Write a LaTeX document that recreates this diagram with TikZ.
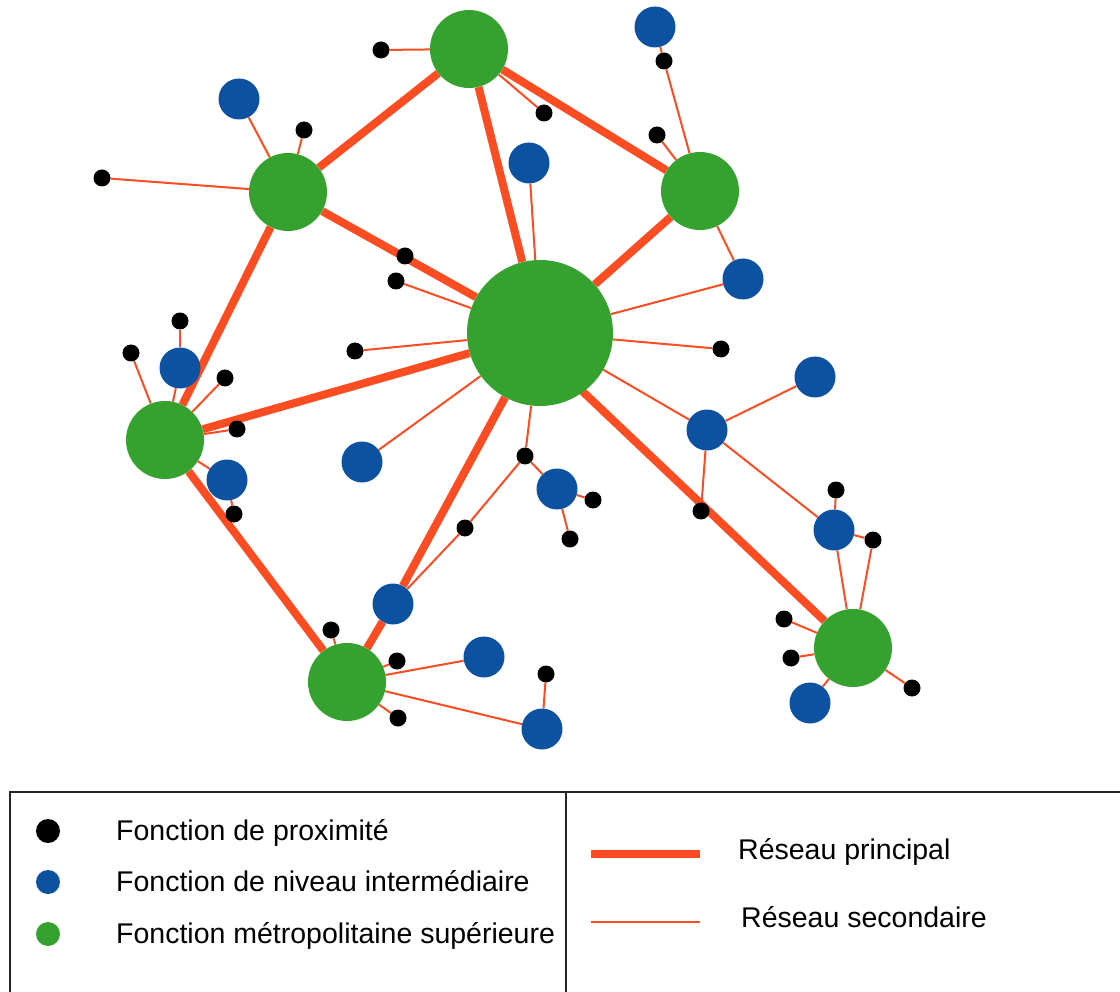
\documentclass[tikz,border=0pt]{standalone}
\usepackage{fontspec}
\setmainfont{Liberation Sans}
\usetikzlibrary{backgrounds}
\definecolor{cgreen}{RGB}{53,161,46}
\definecolor{cblue}{RGB}{12,82,161}
\definecolor{cred}{RGB}{252,76,34}
\begin{document}
\begin{tikzpicture}[x=1pt,y=-1pt,
 metro/.style={circle,fill=cgreen,inner sep=0,minimum size=78pt},
 bigmetro/.style={circle,fill=cgreen,inner sep=0,minimum size=146pt},
 inter/.style={circle,fill=cblue,inner sep=0,minimum size=41pt},
 prox/.style={circle,fill=black,inner sep=0,minimum size=17pt},
 mainnet/.style={draw=cred,line width=8pt},
 secnet/.style={draw=cred,line width=2pt},
 legdot/.style={circle,inner sep=0,minimum size=24pt},
 lab/.style={anchor=base west,inner sep=0,font=\fontsize{28.5}{34}\selectfont},
 frame/.style={draw=black!85,line width=2pt},
]
\useasboundingbox (0,0) rectangle (1120,992);
% metropolitan
\node[bigmetro] (G0) at (540,333) {};
\node[metro] (G1) at (469,49) {};
\node[metro] (G2) at (288,192) {};
\node[metro] (G3) at (700,191) {};
\node[metro] (G4) at (165,440) {};
\node[metro] (G5) at (347,682) {};
\node[metro] (G6) at (853,648) {};
% intermediate
\node[inter] (B1) at (239,99) {};
\node[inter] (B2) at (655,27) {};
\node[inter] (B3) at (529,163) {};
\node[inter] (B4) at (743,279) {};
\node[inter] (B5) at (180,368) {};
\node[inter] (B6) at (227,480) {};
\node[inter] (B7) at (362,462) {};
\node[inter] (B8) at (557,489) {};
\node[inter] (B9) at (707,430) {};
\node[inter] (B10) at (815,377) {};
\node[inter] (B11) at (834,530) {};
\node[inter] (B12) at (393,604) {};
\node[inter] (B13) at (484,657) {};
\node[inter] (B14) at (542,729) {};
\node[inter] (B15) at (810,703) {};
% proximity
\node[prox] (k1) at (381,50) {};
\node[prox] (k2) at (544,113) {};
\node[prox] (k3) at (664,61) {};
\node[prox] (k4) at (657,135) {};
\node[prox] (k5) at (304,130) {};
\node[prox] (k6) at (102,178) {};
\node[prox] (k7) at (405,256) {};
\node[prox] (k8) at (396,281) {};
\node[prox] (k9) at (355,351) {};
\node[prox] (k10) at (721,349) {};
\node[prox] (k11) at (180,321) {};
\node[prox] (k12) at (131,353) {};
\node[prox] (k13) at (225,378) {};
\node[prox] (k14) at (237,429) {};
\node[prox] (k15) at (234,514) {};
\node[prox] (k16) at (525,456) {};
\node[prox] (k17) at (465,528) {};
\node[prox] (k18) at (593,500) {};
\node[prox] (k19) at (570,539) {};
\node[prox] (k20) at (701,511) {};
\node[prox] (k21) at (836,490) {};
\node[prox] (k22) at (873,540) {};
\node[prox] (k23) at (784,619) {};
\node[prox] (k24) at (791,658) {};
\node[prox] (k25) at (912,688) {};
\node[prox] (k26) at (331,630) {};
\node[prox] (k27) at (397,661) {};
\node[prox] (k28) at (398,718) {};
\node[prox] (k29) at (546,674) {};
\coordinate (g0low) at (540,351);
\begin{scope}[on background layer]
% main network
\draw[mainnet] (G1) -- (G2);
\draw[mainnet] (G1) -- (G0);
\draw[mainnet] (G1) -- (G3);
\draw[mainnet] (G2) -- (G0);
\draw[mainnet] (G2) -- (G4);
\draw[mainnet] (G3) -- (G0);
\draw[mainnet] (G4) -- (G0);
\draw[mainnet] (G4) -- (G5);
\draw[mainnet] (G5) -- (B12);
\draw[mainnet] (B12) -- (G0);
\draw[mainnet] (G6) -- (g0low);
% secondary network
\draw[secnet] (G1) -- (k1);
\draw[secnet] (G1) -- (k2);
\draw[secnet] (B2) -- (k3) -- (G3);
\draw[secnet] (G3) -- (k4);
\draw[secnet] (G3) -- (B4);
\draw[secnet] (G2) -- (B1);
\draw[secnet] (G2) -- (k5);
\draw[secnet] (G2) -- (k6);
\draw[secnet] (G0) -- (B3);
\draw[secnet] (G0) -- (B4);
\draw[secnet] (G0) -- (k8);
\draw[secnet] (G0) -- (k9);
\draw[secnet] (G0) -- (k10);
\draw[secnet] (G0) -- (B7);
\draw[secnet] (G0) -- (B9);
\draw[secnet] (G0) -- (k16);
\draw[secnet] (k16) -- (B8);
\draw[secnet] (B8) -- (k18);
\draw[secnet] (B8) -- (k19);
\draw[secnet] (k16) -- (k17) -- (B12);
\draw[secnet] (B9) -- (B10);
\draw[secnet] (B9) -- (k20);
\draw[secnet] (B9) -- (B11);
\draw[secnet] (B11) -- (k21);
\draw[secnet] (B11) -- (k22);
\draw[secnet] (B11) -- (G6);
\draw[secnet] (k22) -- (G6);
\draw[secnet] (G6) -- (k23);
\draw[secnet] (G6) -- (k24);
\draw[secnet] (G6) -- (B15);
\draw[secnet] (G6) -- (k25);
\draw[secnet] (G4) -- (k12);
\draw[secnet] (G4) -- (B5);
\draw[secnet] (B5) -- (k11);
\draw[secnet] (G4) -- (k13);
\draw[secnet] (G4) -- (k14);
\draw[secnet] (G4) -- (B6);
\draw[secnet] (B6) -- (k15);
\draw[secnet] (G5) -- (k26);
\draw[secnet] (G5) -- (k27);
\draw[secnet] (G5) -- (B13);
\draw[secnet] (G5) -- (B14);
\draw[secnet] (G5) -- (k28);
\draw[secnet] (B14) -- (k29);
\end{scope}
% legend frame
\coordinate (fa) at (10,992);
\coordinate (fb) at (10,792);
\coordinate (fc) at (1120,792);
\coordinate (fd) at (566,792);
\coordinate (fe) at (566,992);
\draw[frame] (fa) -- (fb) -- (fc);
\draw[frame] (fd) -- (fe);
% legend left
\node[legdot,fill=black] (L1) at (48,831) {};
\node[legdot,fill=cblue] (L2) at (48,882) {};
\node[legdot,fill=cgreen] (L3) at (48,934) {};
\node[lab] (T1) at (116,840) {Fonction de proximité};
\node[lab] (T2) at (116,891) {Fonction de niveau intermédiaire};
\node[lab] (T3) at (116,943) {Fonction métropolitaine supérieure};
% legend right
\coordinate (m1) at (591,854);
\coordinate (m2) at (700,854);
\coordinate (s1) at (591,922);
\coordinate (s2) at (700,922);
\draw[mainnet] (m1) -- (m2);
\draw[secnet] (s1) -- (s2);
\node[lab] (T4) at (738,859) {Réseau principal};
\node[lab] (T5) at (741,927) {Réseau secondaire};
\end{tikzpicture}
\end{document}
